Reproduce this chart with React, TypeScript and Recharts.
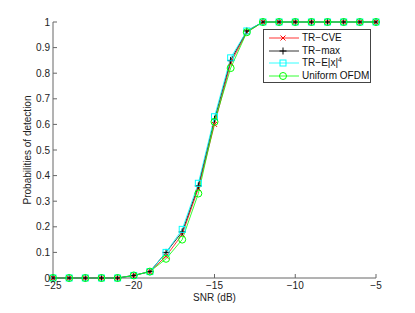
import { LineChart, Line, XAxis, YAxis } from "recharts";

const snr = [-25, -24, -23, -22, -21, -20, -19, -18, -17, -16, -15, -14, -13, -12, -11, -10, -9, -8, -7, -6, -5];
const trCve = [0, 0, 0, 0, 0, 0.01, 0.025, 0.085, 0.17, 0.35, 0.6, 0.84, 0.96, 1, 1, 1, 1, 1, 1, 1, 1];
const trMax = [0, 0, 0, 0, 0, 0.01, 0.025, 0.1, 0.18, 0.36, 0.62, 0.85, 0.965, 1, 1, 1, 1, 1, 1, 1, 1];
const trE4 = [0, 0, 0, 0, 0, 0.01, 0.025, 0.1, 0.19, 0.37, 0.63, 0.86, 0.965, 1, 1, 1, 1, 1, 1, 1, 1];
const uniform = [0, 0, 0, 0, 0, 0.01, 0.025, 0.075, 0.15, 0.33, 0.61, 0.82, 0.96, 1, 1, 1, 1, 1, 1, 1, 1];

const xTicks = [-25, -20, -15, -10, -5];
const yTicks = [0, 0.1, 0.2, 0.3, 0.4, 0.5, 0.6, 0.7, 0.8, 0.9, 1];

const data = snr.map((x, i) => ({
  x,
  cve: trCve[i],
  max: trMax[i],
  e4: trE4[i],
  uni: uniform[i],
}));

const FONT = "'Liberation Sans', Arial, sans-serif";
const fmt = (v: number) => String(v).replace("-", "\u2212");

const XDot = (p: any) => (
  <path
    key={p.key}
    d={`M${p.cx - 2.5},${p.cy - 2.5}L${p.cx + 2.5},${p.cy + 2.5}M${p.cx - 2.5},${p.cy + 2.5}L${p.cx + 2.5},${p.cy - 2.5}`}
    stroke="#ff0000"
    strokeWidth={1}
    fill="none"
  />
);
const PlusDot = (p: any) => (
  <path
    key={p.key}
    d={`M${p.cx - 3.5},${p.cy}L${p.cx + 3.5},${p.cy}M${p.cx},${p.cy - 3.5}L${p.cx},${p.cy + 3.5}`}
    stroke="#000"
    strokeWidth={1}
    fill="none"
  />
);
const SquareDot = (p: any) => (
  <rect key={p.key} x={p.cx - 3} y={p.cy - 3} width={6} height={6} stroke="#00ffff" strokeWidth={1} fill="none" />
);
const CircleDot = (p: any) => (
  <circle key={p.key} cx={p.cx} cy={p.cy} r={3.5} stroke="#00ff00" strokeWidth={1} fill="none" />
);

// bottom tick label, placed just under the axis line
const XTick = (p: any) => (
  <text x={p.x} y={p.y} dy={0} textAnchor="middle" fill="#222" fontSize={10} fontFamily={FONT}>
    {fmt(p.payload.value)}
  </text>
);

const legendItems = [
  { name: "TR\u2212CVE", color: "#ff0000", mark: "x" },
  { name: "TR\u2212max", color: "#000", mark: "+" },
  { name: "TR\u2212E|x|", sup: "4", color: "#00ffff", mark: "s" },
  { name: "Uniform OFDM", color: "#00ff00", mark: "o" },
];

function Marker({ mark, color }: { mark: string; color: string }) {
  const cx = 16;
  const cy = 6;
  if (mark === "x") return <path d={`M${cx - 2.5},${cy - 2.5}L${cx + 2.5},${cy + 2.5}M${cx - 2.5},${cy + 2.5}L${cx + 2.5},${cy - 2.5}`} stroke={color} />;
  if (mark === "+") return <path d={`M${cx - 3.5},${cy}L${cx + 3.5},${cy}M${cx},${cy - 3.5}L${cx},${cy + 3.5}`} stroke={color} />;
  if (mark === "s") return <rect x={cx - 3} y={cy - 3} width={6} height={6} stroke={color} fill="none" />;
  return <circle cx={cx} cy={cy} r={3.5} stroke={color} fill="none" />;
}

export default function App() {
  return (
    <div style={{ position: "relative", width: 415, height: 313, margin: -8, background: "#fff" }}>
      <LineChart width={415} height={313} data={data} margin={{ top: 22, right: 39, bottom: 0, left: 0 }}>
        <XAxis
          dataKey="x"
          type="number"
          domain={[-25, -5]}
          ticks={xTicks}
          height={35}
          tickSize={-4}
          tickMargin={15}
          stroke="#666"
          tick={XTick}
          label={({ viewBox }: any) => (
            <text
              x={viewBox.x + viewBox.width / 2}
              y={viewBox.y + 23}
              textAnchor="middle"
              fill="#222"
              fontSize={10}
              fontFamily={FONT}
            >
              SNR (dB)
            </text>
          )}
        />
        <XAxis
          xAxisId="top"
          dataKey="x"
          type="number"
          orientation="top"
          domain={[-25, -5]}
          ticks={xTicks}
          tickFormatter={() => ""}
          height={0}
          tickSize={-4}
          stroke="#666"
        />
        <YAxis
          domain={[0, 1]}
          ticks={yTicks}
          width={53}
          tickSize={-4}
          tickMargin={7}
          stroke="#666"
          tick={{ fill: "#222", fontSize: 10, fontFamily: FONT }}
          label={({ viewBox }: any) => (
            <text
              x={viewBox.x + 31}
              y={viewBox.y + viewBox.height / 2}
              transform={`rotate(-90 ${viewBox.x + 31} ${viewBox.y + viewBox.height / 2})`}
              textAnchor="middle"
              fill="#222"
              fontSize={10}
              fontFamily={FONT}
            >
              Probabilities of detection
            </text>
          )}
        />
        <YAxis
          yAxisId="right"
          orientation="right"
          domain={[0, 1]}
          ticks={yTicks}
          width={0}
          tickSize={-4}
          tickFormatter={() => ""}
          stroke="#666"
        />
        <Line dataKey="cve" stroke="#ff0000" strokeWidth={0.8} dot={XDot} isAnimationActive={false} />
        <Line dataKey="max" stroke="#000" strokeWidth={0.8} dot={PlusDot} isAnimationActive={false} />
        <Line dataKey="e4" stroke="#00ffff" strokeWidth={0.8} dot={SquareDot} isAnimationActive={false} />
        <Line dataKey="uni" stroke="#00ff00" strokeWidth={0.8} dot={CircleDot} isAnimationActive={false} />
      </LineChart>
      <div
        style={{
          position: "absolute",
          left: 263,
          top: 29,
          width: 108,
          height: 54,
          boxSizing: "border-box",
          border: "1px solid #444",
          background: "#fff",
          fontFamily: FONT,
          fontSize: 10,
          color: "#111",
          paddingTop: 2,
        }}
      >
        {legendItems.map((it) => (
          <div key={it.name} style={{ display: "flex", alignItems: "center", height: 12.5 }}>
            <svg width={35} height={12} style={{ marginLeft: 3 }}>
              <line x1={2} y1={6} x2={32} y2={6} stroke={it.color} strokeWidth={0.8} />
              <Marker mark={it.mark} color={it.color} />
            </svg>
            <span style={{ whiteSpace: "nowrap", lineHeight: "12px" }}>
              {it.name}
              {it.sup && <sup style={{ fontSize: 7, verticalAlign: "4px", lineHeight: 0 }}>{it.sup}</sup>}
            </span>
          </div>
        ))}
      </div>
    </div>
  );
}
